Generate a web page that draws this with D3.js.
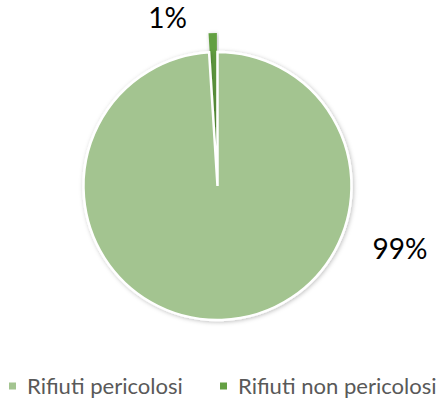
<!DOCTYPE html>
<html>
<head>
<meta charset="utf-8">
<script src="https://cdn.jsdelivr.net/npm/d3@7"></script>
<style>
  body { margin: 0; background: #fff; }
  svg { display: block; font-family: Lato, "Open Sans", sans-serif; }
</style>
</head>
<body>
<svg class="chart" width="438" height="407"></svg>
<script>
let categories = ['Rifiuti pericolosi', 'Rifiuti non pericolosi']
let values = [99, 1]
let labels = ['99%', '1%']
let colors = ['#a3c490', '#64a043']

let pieData = categories.map((c, i) => ({ name: c, value: values[i], label: labels[i], color: colors[i] }))

let cx = 217.5, cy = 186, radius = 134
let explode = 19

let svg = d3.select('.chart')

// soft shadow like the office chart
let defs = svg.append('defs')
let shadow = defs.append('filter').attr('id', 'shadow')
  .attr('x', '-20%').attr('y', '-20%').attr('width', '140%').attr('height', '140%')
shadow.append('feDropShadow')
  .attr('dx', 1).attr('dy', 1).attr('stdDeviation', 2)
  .attr('flood-color', '#000').attr('flood-opacity', 0.25)

let pie = d3.pie().sort(null).value(d => d.value)
let arc = d3.arc().innerRadius(0).outerRadius(radius)

let g = svg.append('g')
  .attr('transform', 'translate(' + cx + ',' + cy + ')')

let arcs = pie(pieData)

// small exploded slice goes underneath, big slice on top
g.selectAll('.slice')
  .data(arcs.slice().reverse())
  .enter()
  .append('path')
  .attr('class', 'slice')
  .attr('d', arc)
  .attr('fill', d => d.data.color)
  .attr('stroke', d => d.index === 0 ? '#fff' : 'none')
  .attr('stroke-width', 2.5)
  .attr('filter', 'url(#shadow)')
  .attr('transform', d => {
    if (d.index === 0) return null
    let mid = (d.startAngle + d.endAngle) / 2
    return 'translate(' + (Math.sin(mid) * explode) + ',' + (-Math.cos(mid) * explode) + ')'
  })

// data labels (placed like the best-fit labels of the original)
let labelPos = [[182.5, 63.5], [-50, -168]]
g.selectAll('.lbl')
  .data(arcs)
  .enter()
  .append('text')
  .attr('class', 'lbl')
  .attr('x', (d, i) => labelPos[i][0])
  .attr('y', (d, i) => labelPos[i][1])
  .attr('dy', '0.35em')
  .attr('text-anchor', 'middle')
  .attr('font-size', 28)
  .attr('fill', '#000')
  .text(d => d.data.label)

// legend
let legendX = [9, 220]
let legend = svg.selectAll('.legend')
  .data(pieData)
  .enter()
  .append('g')
  .attr('class', 'legend')
  .attr('transform', (d, i) => 'translate(' + legendX[i] + ',386)')

legend.append('rect')
  .attr('x', 0).attr('y', -3.5)
  .attr('width', 7).attr('height', 7)
  .attr('fill', d => d.color)

let legendText = legend.append('text')
  .attr('x', 18)
  .attr('dy', '0.35em')
  .attr('font-size', 22)
  .attr('fill', '#595959')
  .text(d => d.name)

// fit legend font so the first entry is as wide as in the original (~156px)
let w0 = legendText.node().getComputedTextLength()
legendText.attr('font-size', 22 * 156 / w0)
</script>
</body>
</html>
